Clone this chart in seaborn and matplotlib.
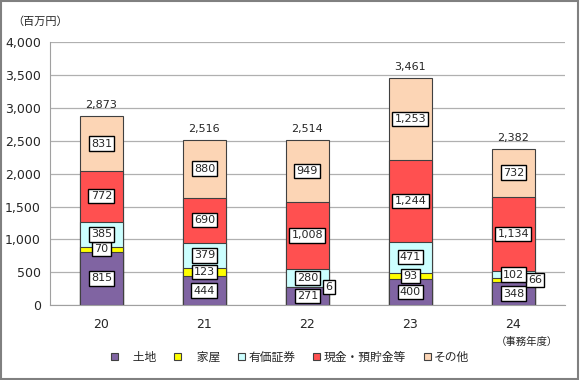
import numpy as np
import pandas as pd
import seaborn as sns
import matplotlib.pyplot as plt

# data (百万円)
years = ["20", "21", "22", "23", "24"]
tochi = [815, 444, 271, 400, 348]
kaoku = [70, 123, 6, 93, 66]
yuka = [385, 379, 280, 471, 102]
genkin = [772, 690, 1008, 1244, 1134]
sonota = [831, 880, 949, 1253, 732]

names = ["土地", "家屋", "有価証券", "現金・預貯金等", "その他"]
legend_labels = ["\u3000土地", "\u3000家屋", "有価証券", "現金・預貯金等", "その他"]
colors = ["#8064A2", "#FFFF00", "#CCFFFF", "#FF5050", "#FCD5B5"]

sns.set_style("white")
plt.rcParams['font.family'] = ['DejaVu Sans', 'Noto Sans CJK JP']

series = [tochi, kaoku, yuka, genkin, sonota]
data = pd.DataFrame(dict(zip(names, series)), index=years)
cum = data.cumsum(axis=1)
df = cum.reset_index().rename(columns={"index": "year"})

fig = plt.figure(figsize=(5.8, 3.8), dpi=100)
ax = fig.add_axes([0.086, 0.197, 0.888, 0.692])

# stacked bars: draw cumulative totals from the top series downward
for name, col in reversed(list(zip(names, colors))):
    sns.barplot(data=df, x="year", y=name, color=col, width=0.41,
                edgecolor="#404040", linewidth=0.8, saturation=1, ax=ax)

# value labels in white boxes
box = dict(boxstyle="square,pad=0.2", fc="white", ec="black", lw=1)
for i, yr in enumerate(years):
    base = 0
    for name in names:
        v = data.loc[yr, name]
        dx = 0.21 if v < 60 or (name == "家屋" and yr == "24") else 0
        ax.text(i + dx, base + v / 2, f"{v:,}", ha="center", va="center",
                fontsize=8, bbox=box, zorder=5)
        base += v
    ax.text(i, base + 90, f"{base:,}", ha="center", va="bottom", fontsize=8)

ax.set_ylim(0, 4000)
ax.set_xlim(-0.5, 4.5)
ax.set_yticks(np.arange(0, 4001, 500))
ax.set_yticklabels([f"{t:,}" for t in range(0, 4001, 500)], fontsize=9)
ax.set_xticks(range(len(years)))
ax.set_xticklabels(years, fontsize=9)
ax.set_xticks(np.arange(-0.5, 5, 1), minor=True)
ax.tick_params(axis="x", which="major", length=0, pad=9)
ax.tick_params(axis="x", which="minor", length=4, color="#a0a0a0", direction="out")
ax.tick_params(axis="y", length=3, color="#a0a0a0")
ax.grid(axis="y", color="#b0b0b0", lw=0.9)
ax.set_axisbelow(True)
ax.set_xlabel("")
ax.set_ylabel("")
for s in ["top", "right"]:
    ax.spines[s].set_visible(False)
for s in ["left", "bottom"]:
    ax.spines[s].set_color("#a0a0a0")

fig.text(0.022, 0.942, "（百万円）", fontsize=8, va="center")
fig.text(0.962, 0.1, "（事務年度）", fontsize=7.5, ha="right", va="center")

handles = [plt.Rectangle((0, 0), 1, 1, fc=c, ec="#404040", lw=0.8) for c in colors]
fig.legend(handles, legend_labels, loc="center", bbox_to_anchor=(0.5, 0.06), ncol=5,
           frameon=False, fontsize=8.5, handlelength=0.6, handleheight=0.6,
           columnspacing=1.5, handletextpad=0.3)

# outer frame
fig.patches.append(plt.Rectangle((0.002, 0.003), 0.995, 0.994, transform=fig.transFigure,
                                 fill=False, ec="#808080", lw=1.5))

fig.savefig("out.png", dpi=100)
